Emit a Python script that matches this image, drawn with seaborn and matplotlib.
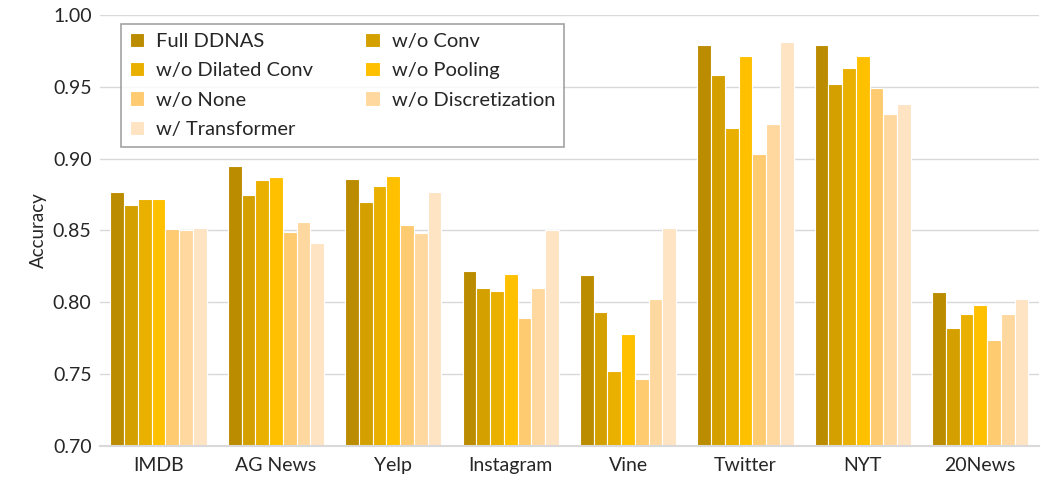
import pandas as pd
import matplotlib.pyplot as plt
import seaborn as sns

# datasets and ablation variants
datasets = ['IMDB', 'AG News', 'Yelp', 'Instagram', 'Vine', 'Twitter', 'NYT', '20News']
variants = ['Full DDNAS', 'w/o Conv', 'w/o Dilated Conv', 'w/o Pooling',
            'w/o None', 'w/o Discretization', 'w/ Transformer']

full_ddnas = [0.877, 0.895, 0.886, 0.822, 0.819, 0.979, 0.979, 0.807]
wo_conv = [0.868, 0.875, 0.870, 0.810, 0.793, 0.958, 0.952, 0.782]
wo_dilated = [0.872, 0.885, 0.881, 0.808, 0.752, 0.921, 0.963, 0.792]
wo_pooling = [0.872, 0.887, 0.888, 0.820, 0.778, 0.971, 0.971, 0.798]
wo_none = [0.851, 0.849, 0.854, 0.789, 0.747, 0.903, 0.949, 0.774]
wo_discrete = [0.850, 0.856, 0.848, 0.810, 0.802, 0.924, 0.931, 0.792]
w_transformer = [0.852, 0.841, 0.877, 0.850, 0.852, 0.981, 0.938, 0.802]

colors = ['#BC8C00', '#D4A000', '#E9B000', '#FFC000', '#FFCB70', '#FFD8A0', '#FFE4C4']

series = [full_ddnas, wo_conv, wo_dilated, wo_pooling, wo_none, wo_discrete, w_transformer]
rows = []
for name, vals in zip(variants, series):
    for d, v in zip(datasets, vals):
        rows.append({'Dataset': d, 'Variant': name, 'Accuracy': v})
df = pd.DataFrame(rows)

sns.set_style('white')
plt.rcParams['font.family'] = ['Lato', 'DejaVu Sans']

fig = plt.figure(figsize=(10.41, 4.93), dpi=100)
ax = fig.add_axes([0.096, 0.095, 0.902, 0.875])

sns.barplot(data=df, x='Dataset', y='Accuracy', hue='Variant', hue_order=variants,
            order=datasets, palette=colors, saturation=1, width=0.82,
            edgecolor='white', linewidth=0.8, ax=ax)

ax.set_ylim(0.70, 1.00)
ax.set_yticks([0.70, 0.75, 0.80, 0.85, 0.90, 0.95, 1.00])
ax.set_yticklabels(['%.2f' % t for t in ax.get_yticks()], fontsize=14)
ax.tick_params(axis='x', labelsize=14, length=0, pad=8)
ax.tick_params(axis='y', length=0, pad=6)
ax.set_xlabel('')
ax.set_ylabel('Accuracy', fontsize=13.5)
ax.yaxis.grid(True, color='#D9D9D9', linewidth=1)
ax.set_axisbelow(True)
for s in ['top', 'right', 'left']:
    ax.spines[s].set_visible(False)
ax.spines['bottom'].set_color('#D9D9D9')
ax.spines['bottom'].set_linewidth(1.5)
ax.set_xlim(-0.5, 7.5)

# legend filled row by row like the original
handles, labels = ax.get_legend_handles_labels()
order = [0, 2, 4, 6, 1, 3, 5]
leg = ax.legend([handles[i] for i in order], [labels[i] for i in order],
                ncol=2, loc='upper left', bbox_to_anchor=(0.018, 0.988), fontsize=14.5,
                frameon=True, fancybox=False, edgecolor='#8C8C8C', handlelength=0.7,
                handleheight=0.7, handletextpad=0.6, columnspacing=2.6,
                labelspacing=0.6, borderpad=0.45, borderaxespad=0.2)
leg.get_frame().set_linewidth(1.2)

fig.savefig('out.png', dpi=100)
